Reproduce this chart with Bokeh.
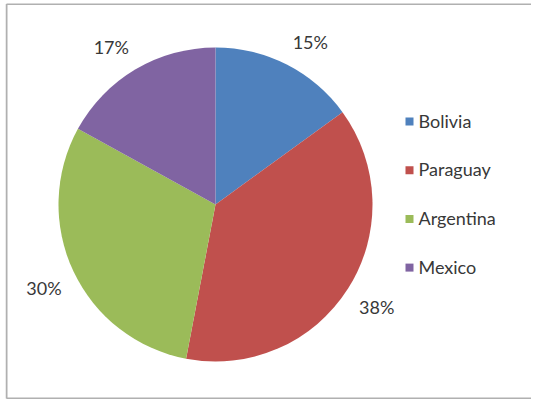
import numpy as np
from bokeh.plotting import figure
from bokeh.models import Range1d, ColumnDataSource
from bokeh.core.properties import value
from bokeh.embed import file_html
from bokeh.resources import INLINE

# ---- data ----
countries = ["Bolivia", "Paraguay", "Argentina", "Mexico"]
shares = [15, 38, 30, 17]
colors = ["#4F81BD", "#C0504D", "#9BBB59", "#8064A2"]

# ---- layout ----
W, H = 526, 396
FONT = "Lato"
TEXT_COLOR = "#383838"
cx, cy, R = 210, 195, 157
label_r = 170

p = figure(width=W, height=H, output_backend="svg", toolbar_location=None,
           x_range=Range1d(0, W), y_range=Range1d(0, H), min_border=0)
p.axis.visible = False
p.grid.visible = False
p.outline_line_color = None
p.background_fill_color = "white"
p.border_fill_color = "white"
p.styles = {"margin-left": "5px", "margin-top": "3px"}

vals = np.array(shares, dtype=float)
frac = vals / vals.sum()
cum_end = np.cumsum(frac)
cum_start = cum_end - frac
# clockwise from 12 o'clock
start = np.pi / 2 - cum_end * 2 * np.pi
end = np.pi / 2 - cum_start * 2 * np.pi

src = ColumnDataSource(dict(x=[cx] * len(vals), y=[cy] * len(vals),
                            start=start, end=end, color=colors))
p.wedge(x="x", y="y", radius=R, start_angle="start", end_angle="end",
        fill_color="color", line_color=None, source=src)

# data labels
mid = (start + end) / 2
lx = cx + label_r * np.cos(mid)
ly = cy + label_r * np.sin(mid)
aligns = ["left" if np.cos(m) >= 0 else "right" for m in mid]
bases = ["bottom" if np.sin(m) >= 0 else "top" for m in mid]
labels = [f"{s}%" for s in shares]
for i in range(len(vals)):
    p.text(x=[lx[i]], y=[ly[i]], text=[labels[i]], text_align=aligns[i],
           text_baseline=bases[i], text_font=value(FONT), text_font_size="18px",
           text_color=TEXT_COLOR)

# legend
lg_x, lg_y0, lg_dy = 404, 278, 48.7
ys = [lg_y0 - i * lg_dy for i in range(len(countries))]
p.rect(x=[lg_x] * len(countries), y=ys, width=8, height=8, fill_color=colors, line_color=None)
p.text(x=[lg_x + 9] * len(countries), y=[y + 1 for y in ys], text=countries,
       text_align="left", text_baseline="middle", text_font=value(FONT),
       text_font_size="18px", text_color=TEXT_COLOR)

# chart-area border (left, top, bottom)
bc = "#b0b0b0"
p.segment(x0=[1, 1, 1], y0=[1, H - 0.5, 1], x1=[1, W, W], y1=[H - 0.5, H - 0.5, 1],
          line_color=bc, line_width=2)

open("out.html", "w").write(file_html(p, INLINE))
